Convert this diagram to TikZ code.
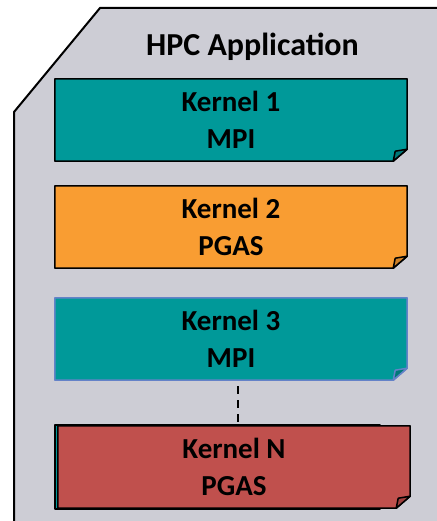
\documentclass[tikz,border=0pt]{standalone}
\usepackage{fontspec}
\setmainfont{Carlito}
\definecolor{appgray}{RGB}{205,205,213}
\definecolor{kteal}{RGB}{0,153,153}
\definecolor{kteald}{RGB}{0,120,120}
\definecolor{korange}{RGB}{249,157,50}
\definecolor{koranged}{RGB}{205,128,40}
\definecolor{kred}{RGB}{192,80,77}
\definecolor{kredd}{RGB}{158,64,62}
\definecolor{kblue}{RGB}{100,130,200}
\pgfdeclarelayer{back}
\pgfdeclarelayer{mid}
\pgfsetlayers{back,mid,main}
\tikzset{
  kernel/.style={minimum width=352pt, minimum height=82pt, inner sep=0pt,
    align=center, font=\bfseries\fontsize{29}{37}\selectfont},
  title/.style={font=\bfseries\fontsize{32}{38}\selectfont, anchor=base},
  edgeline/.style={line width=1.5pt, line join=round},
  link/.style={line width=2pt, dash pattern=on 8pt off 6pt, dash phase=8pt}
}
% note-style box with a curled bottom-right corner, drawn behind node #1
\newcommand\curlbox[4]{%
  \begin{pgfonlayer}{mid}
    \filldraw[edgeline, fill=#2, draw=#4]
      (#1.north west) -- (#1.north east) -- ([yshift=12pt]#1.south east)
      -- ([xshift=-14pt]#1.south east) -- (#1.south west) -- cycle;
    \filldraw[edgeline, fill=#3, draw=#4]
      ([yshift=12pt]#1.south east) -- ([xshift=-12pt,yshift=10pt]#1.south east)
      -- ([xshift=-14pt]#1.south east) -- cycle;
  \end{pgfonlayer}}
\begin{document}
\begin{tikzpicture}[x=1pt,y=-1pt]
\useasboundingbox (0,0) rectangle (436,521);
% application frame with clipped top-left corner
\begin{pgfonlayer}{back}
  \fill[appgray] (14,540) -- (14,112) -- (100,8) -- (460,8) -- (460,540) -- cycle;
  \draw[line width=2pt, line join=miter] (14,540) -- (14,112) -- (100,8) -- (460,8);
\end{pgfonlayer}
\node[title] (app) at (252.5,56) {HPC Application};
\node[kernel] (k1) at (231,120) {Kernel 1\\MPI};
\curlbox{k1}{kteal}{kteald}{black}
\node[kernel] (k2) at (231,227) {Kernel 2\\PGAS};
\curlbox{k2}{korange}{koranged}{black}
\node[kernel] (k3) at (231,339) {Kernel 3\\MPI};
\curlbox{k3}{kteal}{kteald}{kblue}
% stacked kernels: a teal sheet peeks out behind the last one
\coordinate (kb) at (55,425);
\begin{pgfonlayer}{mid}
  \filldraw[edgeline, fill=kteal] (kb) rectangle (380,509);
\end{pgfonlayer}
\node[kernel] (kN) at (234,467) {Kernel N\\PGAS};
\curlbox{kN}{kred}{kredd}{black}
\draw[link] ([xshift=7pt]k3.south) -- ([xshift=7pt]k3.south |- kN.north);
\end{tikzpicture}
\end{document}
